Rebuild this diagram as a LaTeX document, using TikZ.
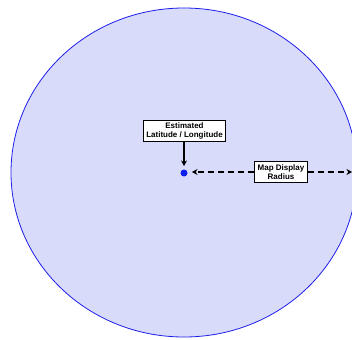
\documentclass[tikz,border=0pt]{standalone}
\usepackage{fontspec}
\setmainfont{Liberation Sans}
\usetikzlibrary{arrows.meta}
\definecolor{ringblue}{RGB}{30,30,235}
\definecolor{areafill}{RGB}{216,220,250}
\definecolor{dotblue}{RGB}{10,30,240}
\begin{document}
\begin{tikzpicture}[x=1pt,y=-1pt,
  labelbox/.style={draw=black,fill=white,line width=0.9pt,font=\bfseries\fontsize{8}{9.2}\selectfont,align=center,inner xsep=3.2pt,inner ysep=2.6pt},
  conn/.style={line width=1.8pt,-{Stealth[length=5.5pt,width=6pt]}},
  dashconn/.style={conn,dash pattern=on 6.5pt off 3.5pt}]
\useasboundingbox (0,0) rectangle (352,339);
\clip (0,0) rectangle (352,339);
\fill[white] (0,0) rectangle (352,339);
\draw[draw=ringblue,fill=areafill,line width=0.8pt] (184,172.5) ellipse [x radius=173, y radius=164.5];
\fill[dotblue] (184,173) circle [radius=3.5] coordinate (dot);
\node[labelbox] (est) at (184.5,131) {Estimated\\Latitude / Longitude};
\node[labelbox] (map) at (281,172) {Map Display\\Radius};
\coordinate (edge) at (352,172);
\coordinate (dotn) at (184,166);
\coordinate (dote) at (192,172);
\draw[conn] (est.south -| dotn) -- (dotn);
\draw[dashconn] (map.west) -- (dote);
\draw[dashconn] (map.east) -- (edge);
\end{tikzpicture}
\end{document}
